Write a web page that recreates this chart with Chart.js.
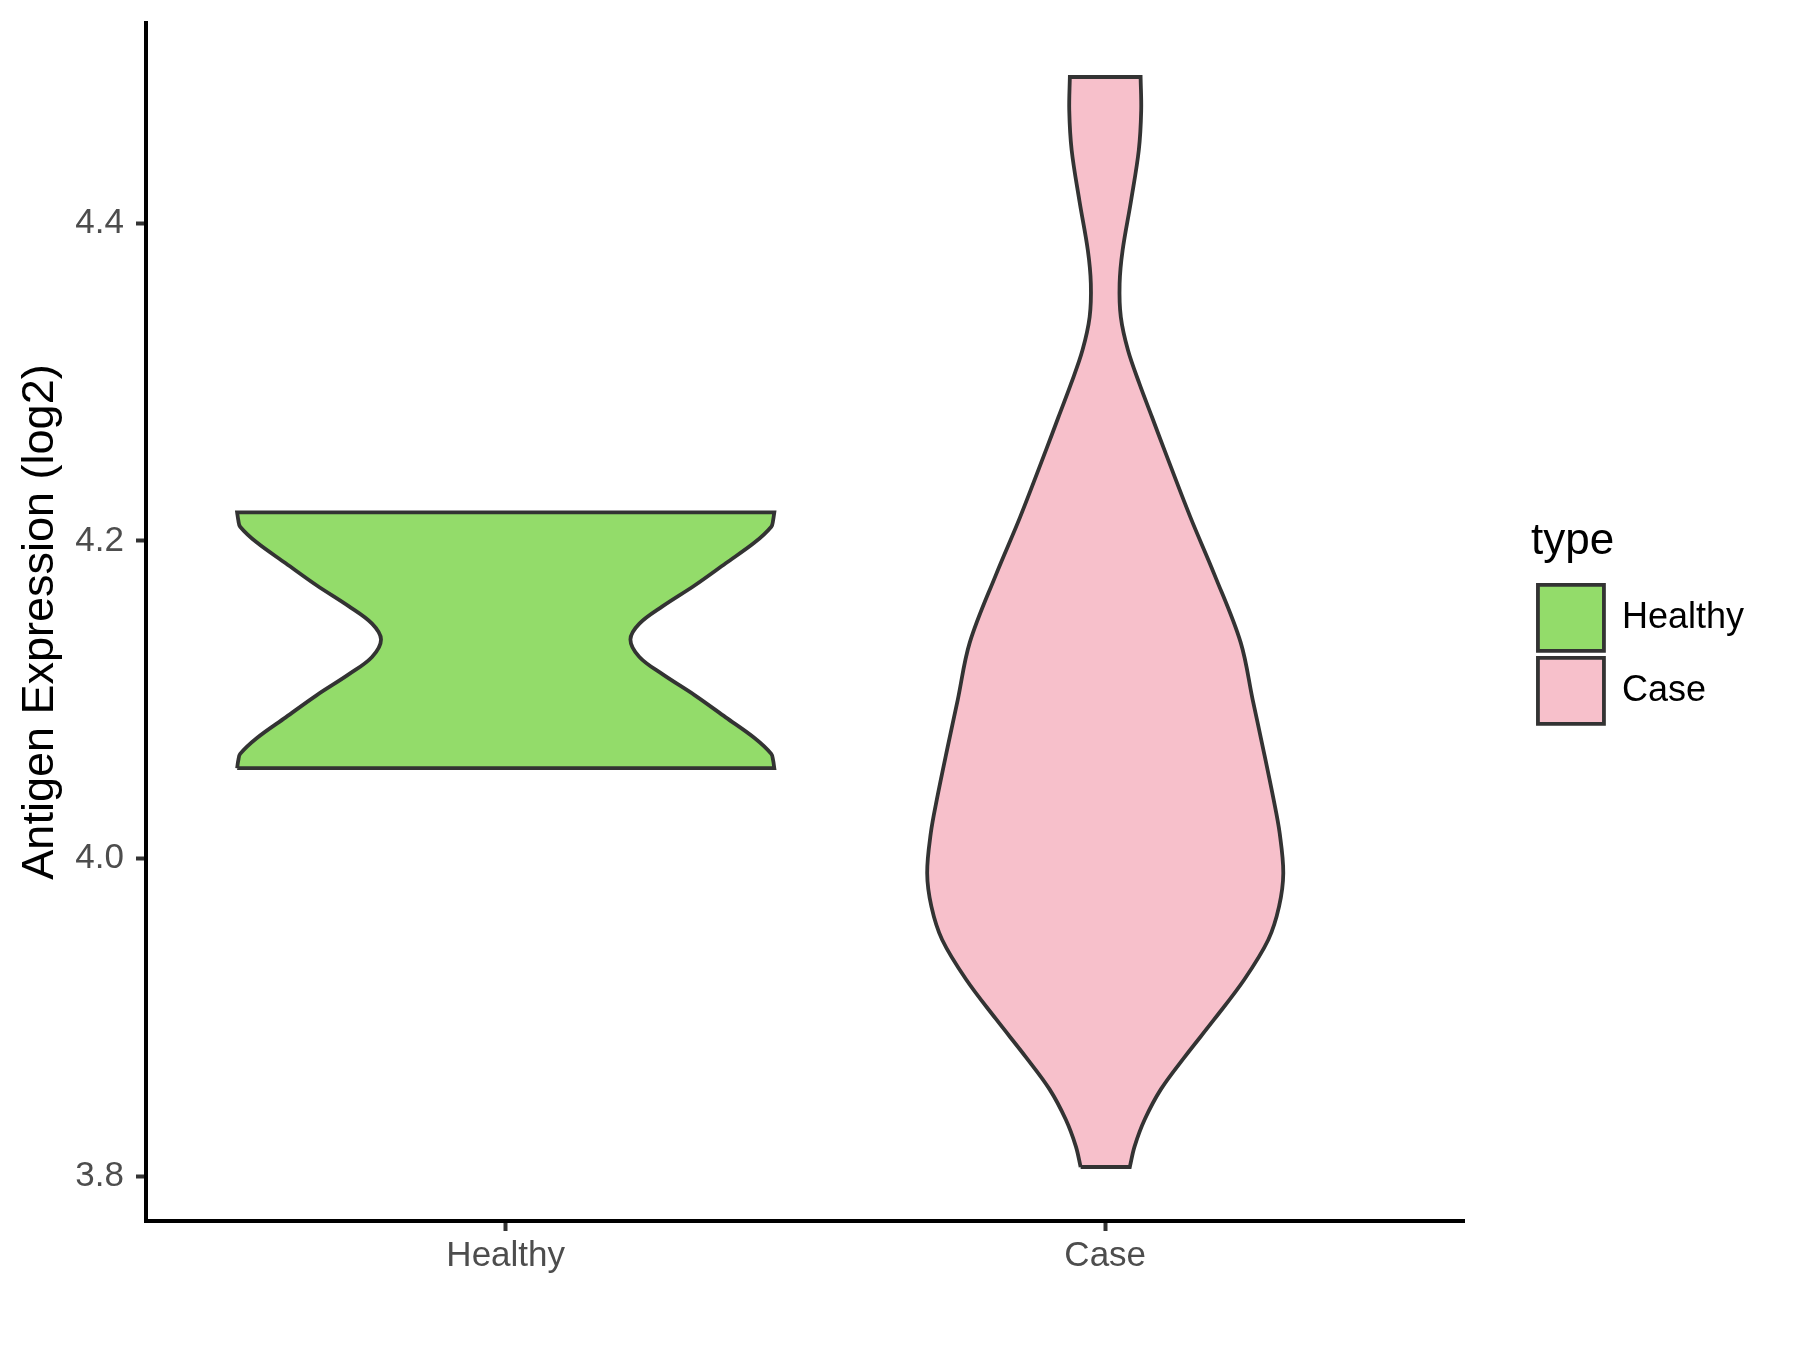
<!DOCTYPE html>
<html>
<head>
<meta charset="utf-8">
<script src="https://cdn.jsdelivr.net/npm/chart.js@4.4.1/dist/chart.umd.min.js"></script>
<style>
  body { margin: 0; background: #fff; }
  canvas { display: block; }
</style>
</head>
<body>
<canvas id="chart-violin" width="1800" height="1350"></canvas>
<script>
// categories on the x axis
var categories = ['Healthy', 'Case'];
var yTicks = [3.8, 4.0, 4.2, 4.4];

// violin outlines: value (log2) and half width of the density at that value
var healthyY = [4.057, 4.062, 4.066, 4.076, 4.089, 4.103, 4.116, 4.127, 4.138,
                4.148, 4.159, 4.172, 4.186, 4.199, 4.209, 4.213, 4.218];
var healthyHalfWidth = [0.448, 0.446, 0.443, 0.415, 0.367, 0.315, 0.262, 0.223, 0.208,
                        0.223, 0.262, 0.315, 0.367, 0.415, 0.443, 0.446, 0.448];

var caseY = [3.806, 3.819, 3.836, 3.855, 3.875, 3.899, 3.924, 3.949, 3.970, 3.991,
             4.016, 4.037, 4.070, 4.100, 4.136, 4.179, 4.215, 4.257, 4.278, 4.299,
             4.320, 4.341, 4.362, 4.383, 4.414, 4.446, 4.471, 4.492];
var caseHalfWidth = [0.041, 0.049, 0.066, 0.093, 0.132, 0.182, 0.232, 0.272, 0.290, 0.297,
                     0.291, 0.281, 0.263, 0.246, 0.226, 0.182, 0.142, 0.099, 0.078, 0.057,
                     0.038, 0.026, 0.024, 0.029, 0.043, 0.056, 0.060, 0.059];

// closed outline: right side upwards, left side downwards
// corner points are doubled so the flat ends stay sharp
function outline(pos, ys, hw) {
    var pts = [];
    var n = ys.length;
    pts.push({x: pos - hw[0], y: ys[0]});
    for (var i = 0; i < n; i++) {
        pts.push({x: pos + hw[i], y: ys[i]});
        if (i === 0 || i === n - 1) pts.push({x: pos + hw[i], y: ys[i]});
    }
    for (var j = n - 1; j >= 0; j--) {
        pts.push({x: pos - hw[j], y: ys[j]});
        if (j === 0 || j === n - 1) pts.push({x: pos - hw[j], y: ys[j]});
    }
    return pts;
}

Chart.defaults.font.family = "'Liberation Sans', Arial, sans-serif";

var ctx = document.getElementById('chart-violin').getContext('2d');
var tickFont = {size: 35};

new Chart(ctx, {
    type: 'line',
    data: {
        datasets: [{
            label: categories[0],
            data: outline(1, healthyY, healthyHalfWidth),
            backgroundColor: '#93DC6A',
            borderColor: '#333333',
            borderWidth: 3.8,
            fill: 'shape',
            tension: 0.35,
            pointRadius: 0,
            xAxisID: 'x',
            yAxisID: 'y'
        }, {
            label: categories[1],
            data: outline(2, caseY, caseHalfWidth),
            backgroundColor: '#F7C0CB',
            borderColor: '#333333',
            borderWidth: 3.8,
            fill: 'shape',
            tension: 0.35,
            pointRadius: 0,
            xAxisID: 'x',
            yAxisID: 'y'
        }]
    },
    options: {
        responsive: false,
        animation: false,
        events: [],
        layout: {
            padding: {top: 23, right: 46, bottom: 0, left: 0}
        },
        scales: {
            x: {
                type: 'linear',
                position: 'bottom',
                min: 0.4,
                max: 2.6,
                afterBuildTicks: function (s) {
                    s.ticks = [{value: 1}, {value: 2}];
                },
                afterFit: function (s) { s.height = 129; },
                grid: {
                    display: true,
                    drawOnChartArea: false,
                    drawTicks: true,
                    tickLength: 10,
                    tickColor: '#333333',
                    tickWidth: 4
                },
                border: {display: true, color: '#000000', width: 4},
                ticks: {
                    font: tickFont,
                    color: '#4D4D4D',
                    padding: 4,
                    maxRotation: 0,
                    callback: function (v) { return categories[v - 1]; }
                }
            },
            y: {
                type: 'linear',
                position: 'left',
                min: 3.772,
                max: 4.526,
                afterBuildTicks: function (s) {
                    s.ticks = yTicks.map(function (v) { return {value: v}; });
                },
                afterFit: function (s) {
                    s.width = 146;
                    s.paddingTop = 0;
                    s.paddingBottom = 0;
                },
                grid: {
                    display: true,
                    drawOnChartArea: false,
                    drawTicks: true,
                    tickLength: 10,
                    tickColor: '#333333',
                    tickWidth: 4
                },
                border: {display: true, color: '#000000', width: 4},
                ticks: {
                    font: tickFont,
                    color: '#4D4D4D',
                    padding: 12,
                    callback: function (v) { return v.toFixed(1); }
                },
                title: {
                    display: true,
                    text: 'Antigen Expression (log2)',
                    font: {size: 45},
                    color: '#000000',
                    padding: {top: 14, bottom: 0}
                }
            },
            yR: {
                type: 'linear',
                position: 'right',
                display: true,
                grid: {display: false},
                border: {display: false},
                ticks: {display: false},
                afterFit: function (s) { s.width = 66; }
            }
        },
        plugins: {
            tooltip: {enabled: false},
            legend: {
                position: 'right',
                align: 'start',
                title: {
                    display: true,
                    text: 'type',
                    position: 'start',
                    color: '#000000',
                    font: {size: 44},
                    padding: {top: 497, bottom: 5}
                },
                labels: {
                    boxWidth: 66,
                    boxHeight: 66,
                    padding: 7,
                    color: '#000000',
                    font: {size: 36}
                }
            }
        }
    }
});
</script>
</body>
</html>
